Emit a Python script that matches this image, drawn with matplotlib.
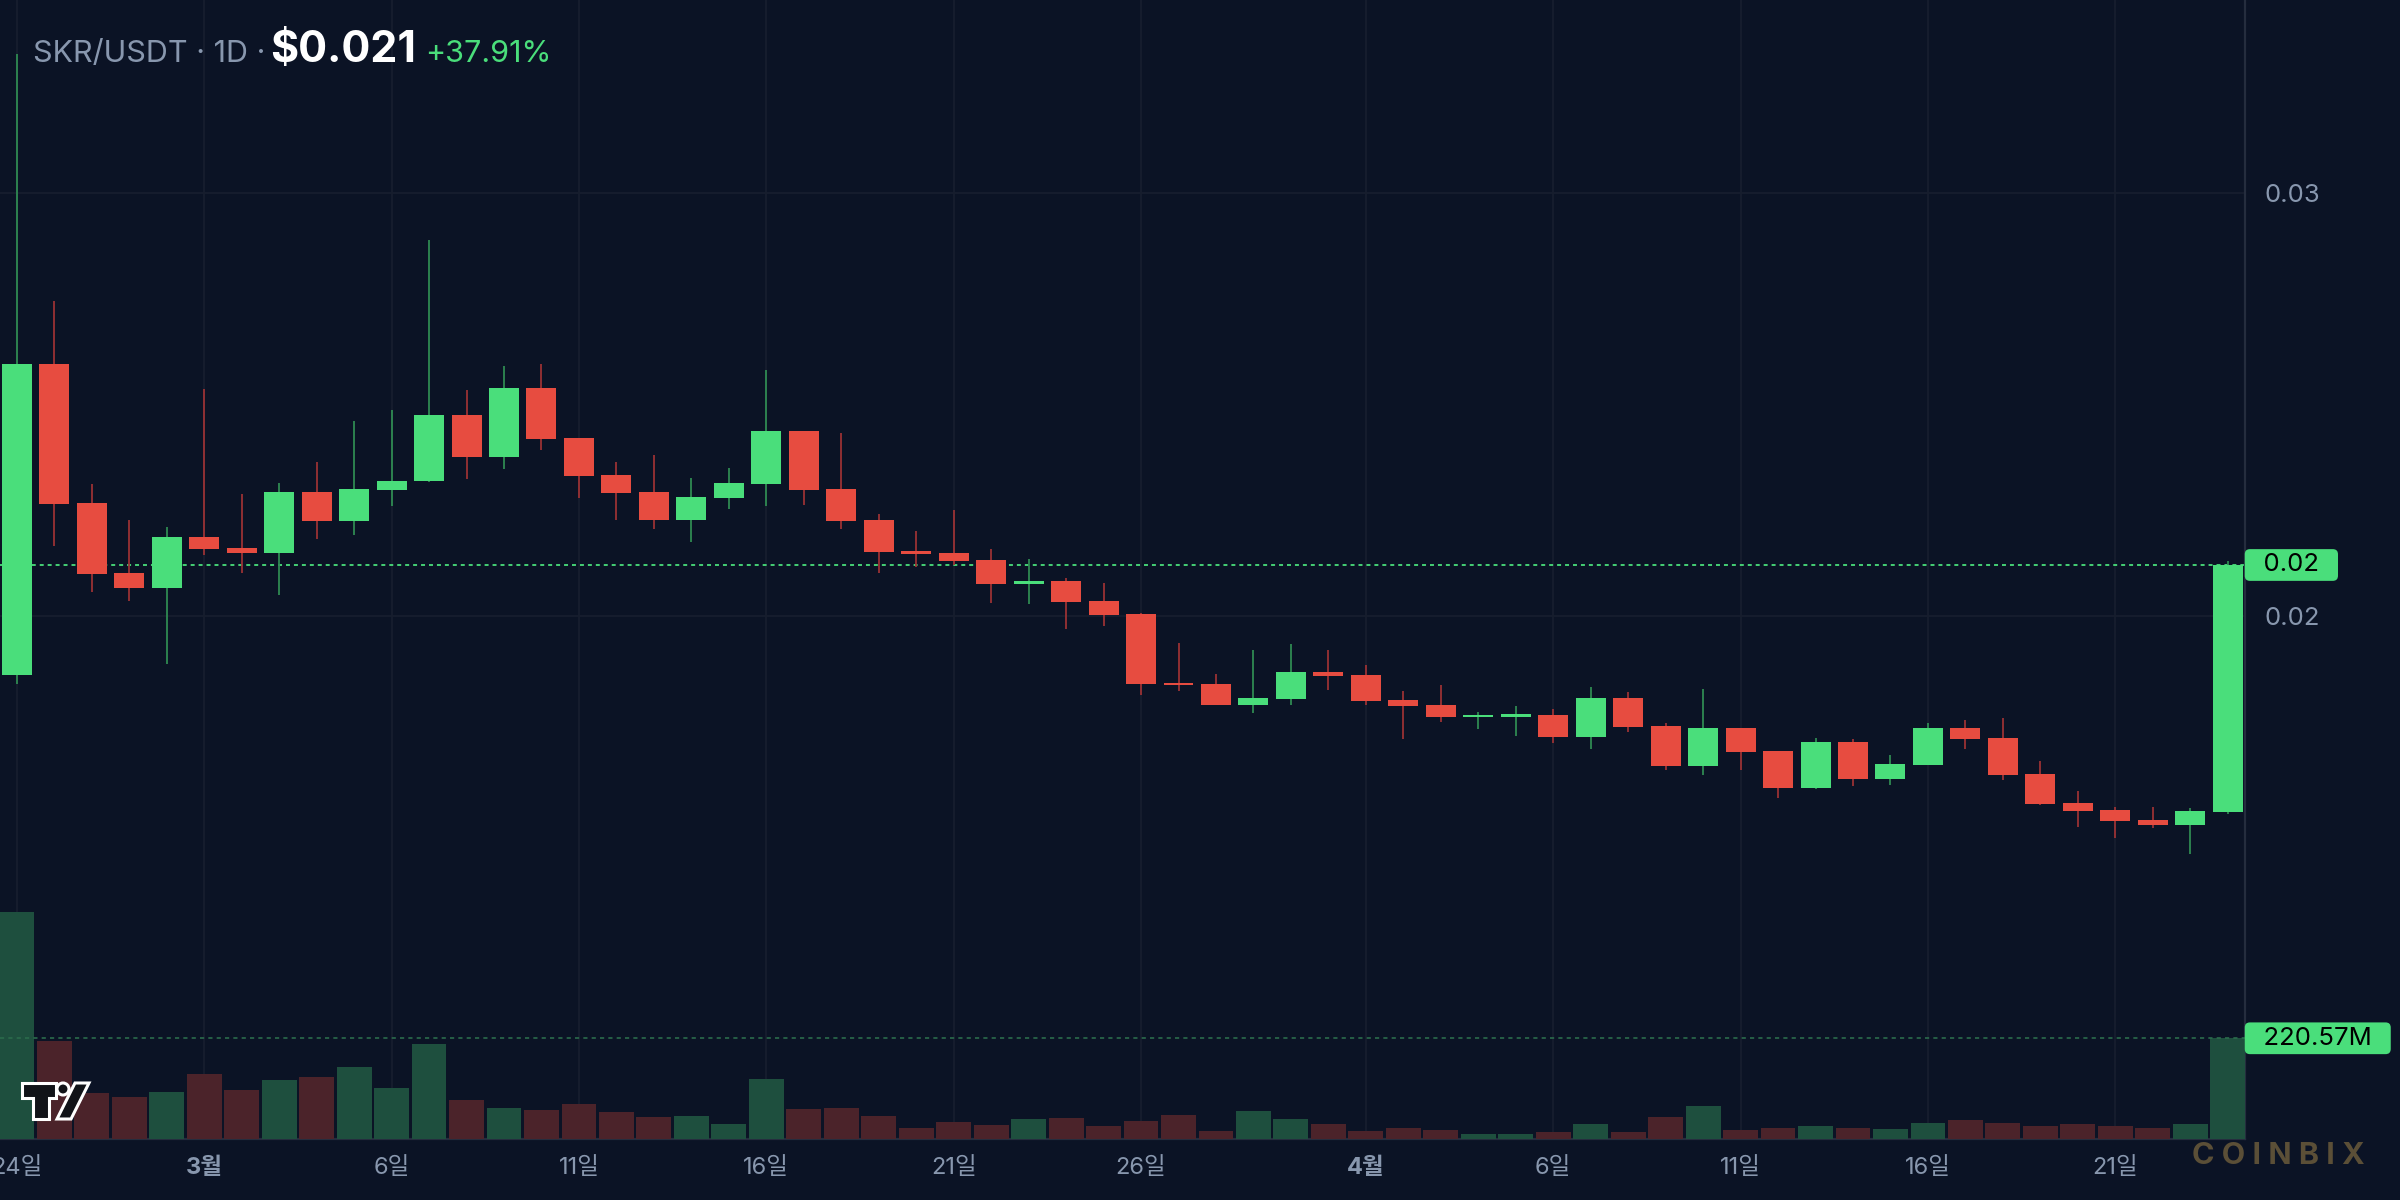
import numpy as np
import pandas as pd
import matplotlib
matplotlib.use('Agg')
import matplotlib.pyplot as plt
from matplotlib.patches import Polygon, Circle
from matplotlib.transforms import blended_transform_factory, IdentityTransform

plt.rcParams['font.family'] = ['Inter', 'Noto Sans CJK KR', 'DejaVu Sans']

# daily candles, SKR/USDT
dates = pd.date_range('2026-02-24', '2026-04-24', freq='D')
opens = [0.01859, 0.02596, 0.02266, 0.02101, 0.02066, 0.02186, 0.02160, 0.02149, 0.02292, 0.02223,
         0.02298, 0.02318, 0.02475, 0.02376, 0.02539, 0.02420, 0.02333, 0.02293, 0.02227, 0.02279,
         0.02312, 0.02437, 0.02300, 0.02227, 0.02153, 0.02148, 0.02132, 0.02075, 0.02082, 0.02035,
         0.02004, 0.01841, 0.01838, 0.01788, 0.01803, 0.01867, 0.01860, 0.01800, 0.01788, 0.01761,
         0.01761, 0.01765, 0.01713, 0.01805, 0.01739, 0.01644, 0.01734, 0.01680, 0.01592, 0.01701,
         0.01613, 0.01646, 0.01734, 0.01710, 0.01625, 0.01556, 0.01540, 0.01516, 0.01504, 0.01535]
highs = [0.03330, 0.02744, 0.02311, 0.02227, 0.02210, 0.02537, 0.02287, 0.02314, 0.02363, 0.02461,
         0.02487, 0.02889, 0.02534, 0.02592, 0.02596, 0.02420, 0.02364, 0.02380, 0.02326, 0.02350,
         0.02582, 0.02437, 0.02433, 0.02241, 0.02200, 0.02250, 0.02158, 0.02134, 0.02089, 0.02077,
         0.02006, 0.01935, 0.01862, 0.01919, 0.01933, 0.01919, 0.01883, 0.01822, 0.01836, 0.01772,
         0.01786, 0.01779, 0.01831, 0.01819, 0.01746, 0.01826, 0.01734, 0.01680, 0.01710, 0.01708,
         0.01670, 0.01746, 0.01753, 0.01758, 0.01656, 0.01585, 0.01547, 0.01547, 0.01545, 0.02129]
lows = [0.01839, 0.02166, 0.02057, 0.02035, 0.01886, 0.02144, 0.02102, 0.02049, 0.02182, 0.02192,
        0.02260, 0.02316, 0.02324, 0.02348, 0.02393, 0.02279, 0.02227, 0.02205, 0.02174, 0.02253,
        0.02260, 0.02262, 0.02205, 0.02101, 0.02115, 0.02120, 0.02030, 0.02028, 0.01968, 0.01976,
        0.01812, 0.01822, 0.01788, 0.01770, 0.01788, 0.01824, 0.01788, 0.01708, 0.01748, 0.01732,
        0.01715, 0.01699, 0.01684, 0.01725, 0.01635, 0.01623, 0.01635, 0.01568, 0.01590, 0.01597,
        0.01599, 0.01646, 0.01684, 0.01611, 0.01552, 0.01500, 0.01474, 0.01497, 0.01436, 0.01530]
closes = [0.02596, 0.02265, 0.02099, 0.02066, 0.02186, 0.02159, 0.02149, 0.02292, 0.02223, 0.02299,
          0.02318, 0.02475, 0.02376, 0.02539, 0.02419, 0.02331, 0.02291, 0.02227, 0.02281, 0.02314,
          0.02437, 0.02298, 0.02224, 0.02151, 0.02146, 0.02129, 0.02075, 0.02082, 0.02032, 0.02002,
          0.01838, 0.01836, 0.01788, 0.01805, 0.01867, 0.01857, 0.01798, 0.01786, 0.01760, 0.01765,
          0.01767, 0.01713, 0.01805, 0.01736, 0.01644, 0.01734, 0.01677, 0.01592, 0.01701, 0.01613,
          0.01649, 0.01734, 0.01708, 0.01623, 0.01554, 0.01537, 0.01514, 0.01504, 0.01537, 0.02120]
# volume in millions
volume = [496, 215, 101, 92, 103, 143, 108, 130, 136, 158,
          112, 208, 86, 68, 64, 77, 60, 49, 51, 33,
          132, 66, 68, 51, 25, 38, 31, 44, 47, 29,
          40, 53, 18, 62, 44, 33, 18, 25, 20, 12,
          12, 16, 33, 16, 49, 73, 20, 25, 29, 25,
          22, 36, 42, 36, 29, 33, 29, 25, 33, 220.57]
change_pct = 37.91
tick_dates = ['2026-02-24', '2026-03-01', '2026-03-06', '2026-03-11', '2026-03-16', '2026-03-21',
              '2026-03-26', '2026-04-01', '2026-04-06', '2026-04-11', '2026-04-16', '2026-04-21']

bg = '#0b1325'
up = '#4ade7b'
down = '#e74c40'
up_wick = '#2f8a52'
down_wick = '#9b3234'
vol_up = '#1e4f3e'
vol_down = '#4b232a'
grid_c = '#171e2e'
txt_c = '#8897ae'

o = np.array(opens)
h = np.array(highs)
l = np.array(lows)
c = np.array(closes)
v = np.array(volume)
x = np.arange(len(dates))
rising = c >= o

fig = plt.figure(figsize=(24, 12), dpi=100, facecolor=bg)
ax = fig.add_axes([0, 0.0506, 0.9354, 0.9494])
ax.set_facecolor(bg)

# volume on its own scale, same pane
vax = ax.twinx()
vax.bar(x, v, width=0.93, color=np.where(rising, vol_up, vol_down), zorder=1)
vax.axhline(v[-1], color='#2b6b4c', lw=1.2, ls=(0, (2.5, 2.5)), zorder=2)
vax.set_ylim(0, 2488)
vax.set_yticks([])
for s in vax.spines.values():
    s.set_visible(False)

# candles
ax.vlines(x, l, h, colors=np.where(rising, up_wick, down_wick), lw=1.3, zorder=2)
ax.bar(x, np.maximum(np.abs(c - o), 0.00004), bottom=np.minimum(o, c), width=0.8,
       color=np.where(rising, up, down), zorder=3)
ax.axhline(c[-1], color=up, lw=1.3, ls=(0, (2.2, 2.2)), zorder=1)

ax.set_xlim(-0.45, 59.46)
ax.set_ylim(0.007604, 0.034576)

# date ticks
tick_ts = pd.to_datetime(tick_dates)
tick_idx = [dates.get_loc(d) for d in tick_ts]
tick_lab = [f'{d.month}월' if d.day == 1 else f'{d.day}일' for d in tick_ts]
ax.set_xticks(tick_idx)
ax.set_xticklabels(tick_lab)
for d, lbl in zip(tick_ts, ax.get_xticklabels()):
    lbl.set_fontfamily(['Inter', 'Noto Sans CJK KR'])
    if d.day == 1:
        lbl.set_fontweight('bold')
ax.set_yticks([0.02, 0.03])
ax.set_yticklabels(['0.02', '0.03'])
ax.yaxis.tick_right()
ax.tick_params(axis='x', length=0, pad=13, labelsize=17, labelcolor=txt_c)
ax.tick_params(axis='y', length=0, pad=14, labelsize=18.5, labelcolor=txt_c)
ax.grid(True, color=grid_c, lw=1.3)
ax.set_axisbelow(True)
for side in ['top', 'left']:
    ax.spines[side].set_visible(False)
for side in ['right', 'bottom']:
    ax.spines[side].set_color('#252d3e')
    ax.spines[side].set_linewidth(1.6)

# last price / volume tags
tr = blended_transform_factory(ax.transAxes, ax.transData)
ax.annotate(f'  {c[-1]:.2f}  ', xy=(1, c[-1]), xycoords=tr, xytext=(3, 0), textcoords='offset points',
            ha='left', va='center', fontsize=18.5, color='black', annotation_clip=False,
            bbox=dict(boxstyle='round,pad=0.17,rounding_size=0.2', fc=up, ec='none'))
vtr = blended_transform_factory(vax.transAxes, vax.transData)
vax.annotate(f'  {v[-1]:.2f}M  ', xy=(1, v[-1]), xycoords=vtr, xytext=(3, 0), textcoords='offset points',
             ha='left', va='center', fontsize=18.5, color='black', annotation_clip=False,
             bbox=dict(boxstyle='round,pad=0.17,rounding_size=0.2', fc=up, ec='none'))

# header
fig.text(33 / 2400, 1 - 62 / 1200, 'SKR/USDT · 1D ·', fontsize=22, color=txt_c, va='baseline')
fig.text(270 / 2400, 1 - 62 / 1200, f'${c[-1]:.3f}', fontsize=31, color='white',
         fontweight='bold', va='baseline')
fig.text(425 / 2400, 1 - 62 / 1200, f'+{change_pct:.2f}%', fontsize=22, color=up, va='baseline')

# watermarks
fig.text(2278 / 2400, 1 - 1156 / 1200, 'C O I N B I X', fontsize=22, fontweight='bold',
         color='#5b4f37', ha='center', va='center')


def px(pts):
    return [(a, 1200 - b) for a, b in pts]


tv = dict(fc='#111318', ec='white', lw=2.2, transform=IdentityTransform(), zorder=10)
fig.add_artist(Polygon(px([(22, 1083), (56, 1083), (56, 1098), (49, 1098), (49, 1119),
                           (33, 1119), (33, 1098), (22, 1098)]), **tv))
fig.add_artist(Circle((63, 1200 - 1089), 6, **tv))
fig.add_artist(Polygon(px([(75, 1083), (89, 1083), (71, 1119), (57, 1119)]), **tv))

fig.savefig('out.png', dpi=100, facecolor=bg)
